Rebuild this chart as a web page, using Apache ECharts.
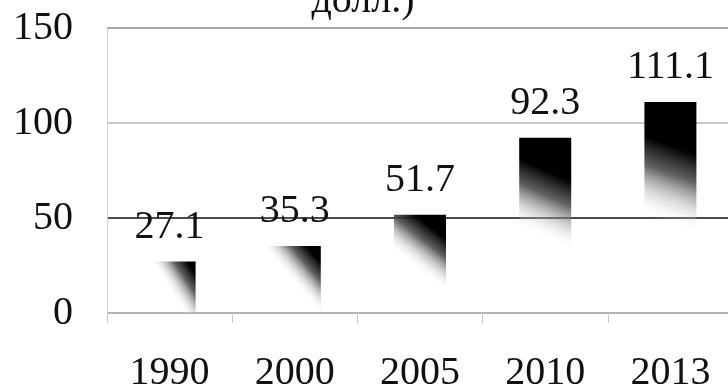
<!DOCTYPE html>
<html>
<head>
<meta charset="utf-8">
<script src="https://cdn.jsdelivr.net/npm/echarts@6/dist/echarts.min.js"></script>
<style>html,body{margin:0;padding:0;background:#fff}#c{width:728px;height:392px}</style>
</head>
<body>
<div id="c"></div>
<script>
var titleText = 'долл.)';
var categories = ['1990', '2000', '2005', '2010', '2013'];
var values = [27.1, 35.3, 51.7, 92.3, 111.1];
var yTicks = [0, 50, 100, 150];

var chart = echarts.init(document.getElementById('c'));
var font = '"Liberation Serif", "DejaVu Serif", serif';
chart.setOption({
  animation: false,
  backgroundColor: '#fff',
  title: {
    text: titleText, left: 358, top: -24, textAlign: 'center',
    textStyle: { fontFamily: font, fontSize: 40, fontWeight: 'normal', color: '#111' }
  },
  grid: { left: 107, right: -5, top: 28, bottom: 79, containLabel: false, outerBoundsMode: 'none' },
  xAxis: {
    type: 'category', data: categories,
    axisLine: { show: false },
    axisTick: { show: true, length: 10, lineStyle: { color: '#c8c8c8' } },
    axisLabel: { margin: 40, fontFamily: font, fontSize: 40, color: '#111' }
  },
  yAxis: {
    type: 'value', min: yTicks[0], max: yTicks[yTicks.length - 1], interval: 50,
    axisLine: { show: true, lineStyle: { color: '#ccc' } },
    axisTick: { show: false },
    axisLabel: { margin: 34, fontFamily: font, fontSize: 40, color: '#111' },
    splitLine: { show: true, lineStyle: { color: ['#9a9a9a', '#111', '#b8b8b8', '#8a8a8a'], width: 1.5 } }
  },
  series: [{
    type: 'bar', data: values, barWidth: 52,
    itemStyle: {
      color: new echarts.graphic.LinearGradient(0.1, 0.85, 1, 0.25, [
        { offset: 0, color: 'rgba(255,255,255,0)' },
        { offset: 0.45, color: 'rgba(255,255,255,0)' },
        { offset: 0.8, color: 'rgba(70,70,70,0.85)' },
        { offset: 1, color: '#000' }
      ])
    },
    label: {
      show: true, position: 'top', distance: 14,
      fontFamily: font, fontSize: 40, color: '#111'
    }
  }]
});
</script>
</body>
</html>
